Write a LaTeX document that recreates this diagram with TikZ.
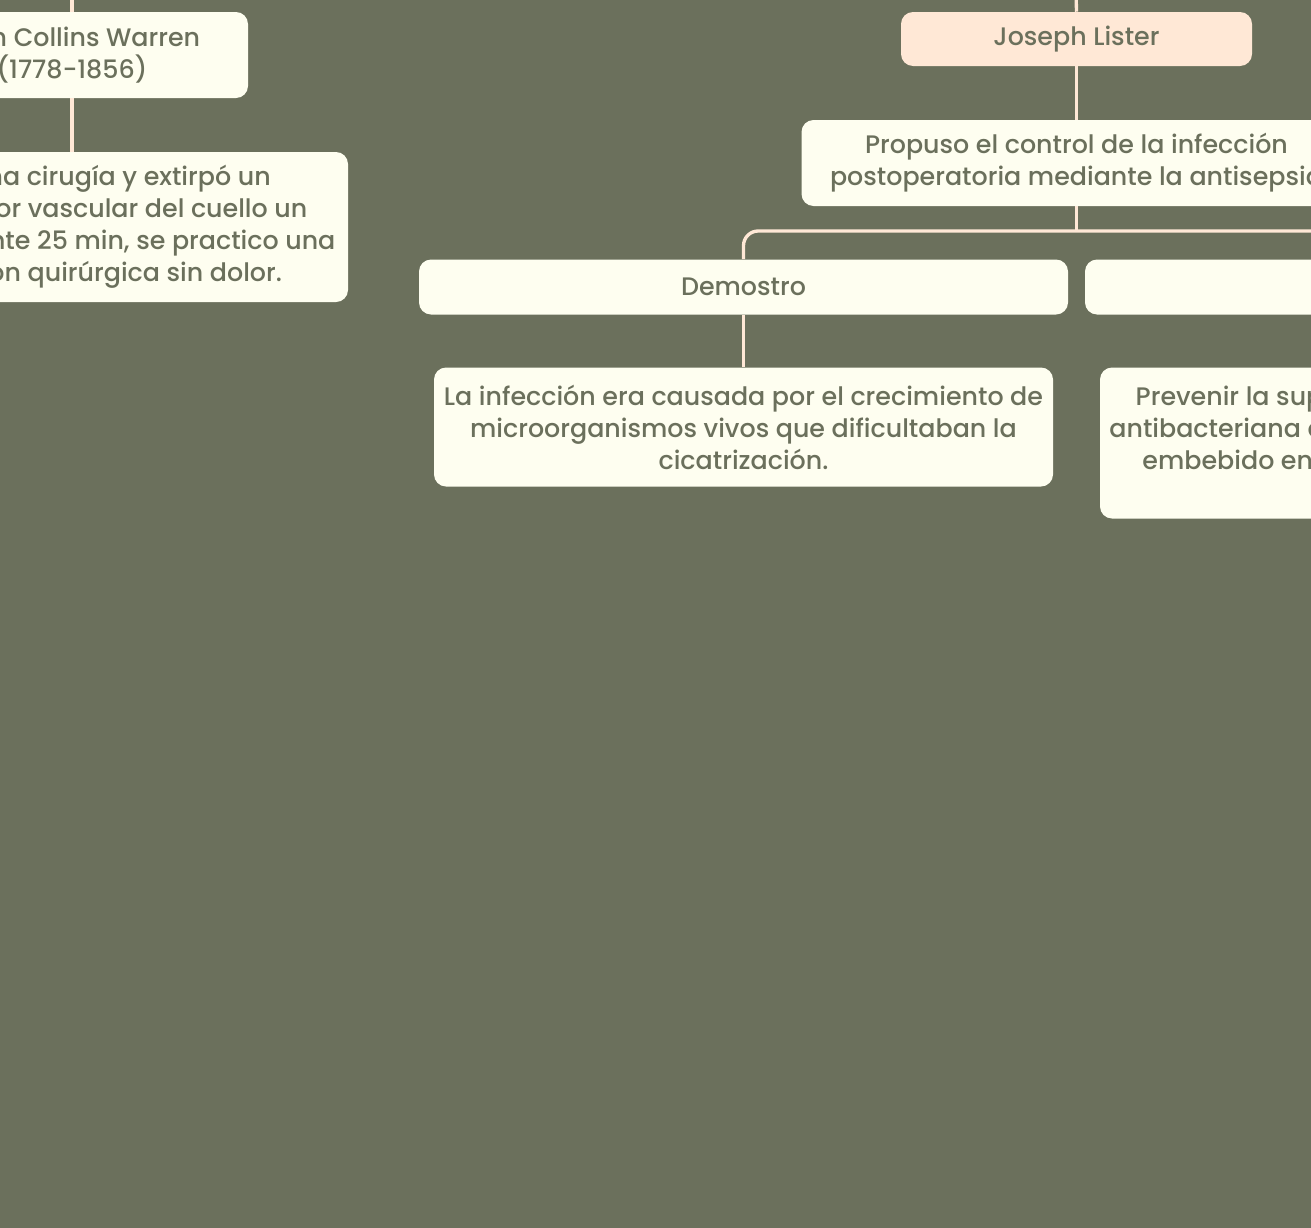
\documentclass[tikz,border=0pt]{standalone}
\usepackage{fontspec}
\setmainfont{Poppins}[UprightFont={* Medium}]
\usepackage{tikz}
\usetikzlibrary{positioning}

\definecolor{fondo}{HTML}{6B705C}
\definecolor{crema}{HTML}{FEFEF0}
\definecolor{durazno}{HTML}{FFE8D6}

\begin{document}
\begin{tikzpicture}[x=0.75pt,y=-0.75pt,on grid,
  box/.style={rounded corners=9pt,fill=crema,text=fondo,align=center,inner sep=0pt,
    font=\fontsize{19}{24}\selectfont},
  link/.style={draw=durazno,line width=2.5pt}]
\useasboundingbox (0,0) rectangle (1311,1228);
\clip (0,0) rectangle (1311,1228);
\fill[fondo] (0,0) rectangle (1311,1228);

\node[box,minimum width=264pt,minimum height=64.5pt] (warren) at (72,55)
  {John Collins Warren\\(1778-1856)};
\node[box,minimum width=414pt,minimum height=112.5pt] (warren_txt) [below=129pt of warren]
  {Realizó una cirugía y extirpó un\\enorme tumor vascular del cuello un\\paciente durante 25 min, se practico una\\intervención quirúrgica sin dolor.};

\node[box,fill=durazno,minimum width=263.25pt,minimum height=40.5pt] (lister) at (1076.5,39) {Joseph Lister};
\node[box,minimum width=412.5pt,minimum height=64.5pt] (propuso) [below=93pt of lister]
  {Propuso el control de la infección\\postoperatoria mediante la antisepsia};

\node[box,minimum width=486.75pt,minimum height=41.25pt] (demostro) at (743.5,287) {Demostro};
\node[box,minimum width=464.25pt,minimum height=89.25pt] (demostro_txt) [below=105pt of demostro]
  {La infección era causada por el crecimiento de\\microorganismos vivos que dificultaban la\\cicatrización.};

\node[box,minimum width=487.5pt,minimum height=41.25pt] (metodo) at (1410,287) {};
\node[box,minimum width=465pt,minimum height=113.25pt] (metodo_txt) [below=117pt of metodo]
  {Prevenir la supuración usando una barrera\\antibacteriana a base de vendajes de algodón\\embebido en ácido carbólico aplicado en\\la herida.};

\coordinate (warren_in) at (72,-10);
\coordinate (lister_in) at (1076,-10);
\coordinate (bus) at (0,231);

\path[link]
(warren_in) edge (warren.north)
(warren.south) edge (warren_txt.north)
(lister_in) edge (lister.north)
(lister.south) edge (propuso.north)
(propuso.south) edge (propuso.south |- bus)
(demostro.south) edge (demostro_txt.north)
(metodo.south) edge (metodo_txt.north)
; %end path
\draw[link,rounded corners=11pt] (demostro.north) |- (metodo.north |- bus) -- (metodo.north);
\end{tikzpicture}
\end{document}
